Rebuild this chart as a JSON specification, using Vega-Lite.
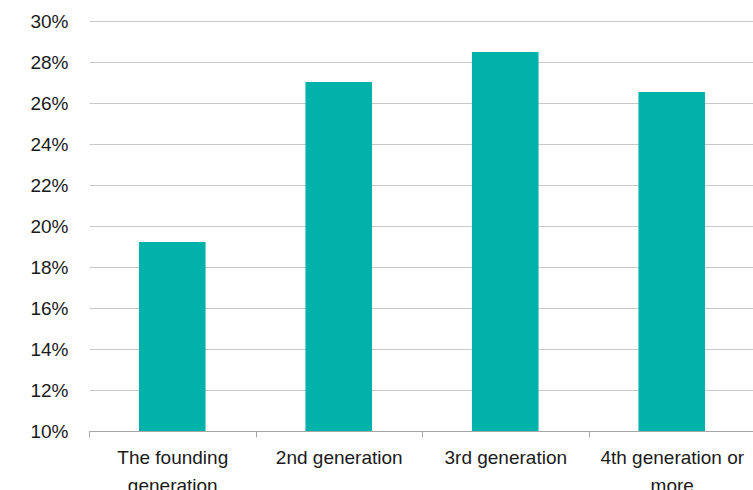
{
  "$schema": "https://vega.github.io/schema/vega-lite/v6.json",
  "autosize": "none",
  "width": 666,
  "height": 410,
  "padding": {"left": 89, "top": 21, "right": 0, "bottom": 70},
  "background": "white",
  "data": {
    "values": [
      {"generation": "The founding generation", "share": 0.1922},
      {"generation": "2nd generation", "share": 0.2703},
      {"generation": "3rd generation", "share": 0.2849},
      {"generation": "4th generation or more", "share": 0.2654}
    ]
  },
  "mark": {"type": "bar", "color": "#00B2A9", "clip": true, "width": {"band": 0.4}},
  "encoding": {
    "x": {
      "field": "generation",
      "type": "nominal",
      "sort": null,
      "scale": {"paddingInner": 0, "paddingOuter": 0},
      "axis": {
        "title": null,
        "labelAngle": 0,
        "tickBand": "extent",
        "ticks": true,
        "tickSize": 6,
        "tickColor": "#A6A6A6",
        "domainColor": "#A6A6A6",
        "labelPadding": 11,
        "labelFont": "Liberation Sans",
        "labelFontSize": 19,
        "labelColor": "#1a1a1a",
        "labelLineHeight": 28,
        "labelBaseline": "top",
        "labelLimit": 300,
        "labelExpr": "datum.label == 'The founding generation' ? ['The founding', 'generation'] : datum.label == '4th generation or more' ? ['4th generation or', 'more'] : datum.label"
      }
    },
    "y": {
      "field": "share",
      "type": "quantitative",
      "scale": {"domain": [0.1, 0.3], "zero": false, "nice": false},
      "axis": {
        "title": null,
        "values": [0.1, 0.12, 0.14, 0.16, 0.18, 0.2, 0.22, 0.24, 0.26, 0.28, 0.3],
        "format": ".0%",
        "domain": false,
        "ticks": false,
        "grid": true,
        "gridColor": "#C8C8C8",
        "gridWidth": 1,
        "labelPadding": 21,
        "labelFont": "Liberation Sans",
        "labelFontSize": 19,
        "labelColor": "#1a1a1a"
      }
    }
  },
  "config": {"view": {"stroke": null}}
}
